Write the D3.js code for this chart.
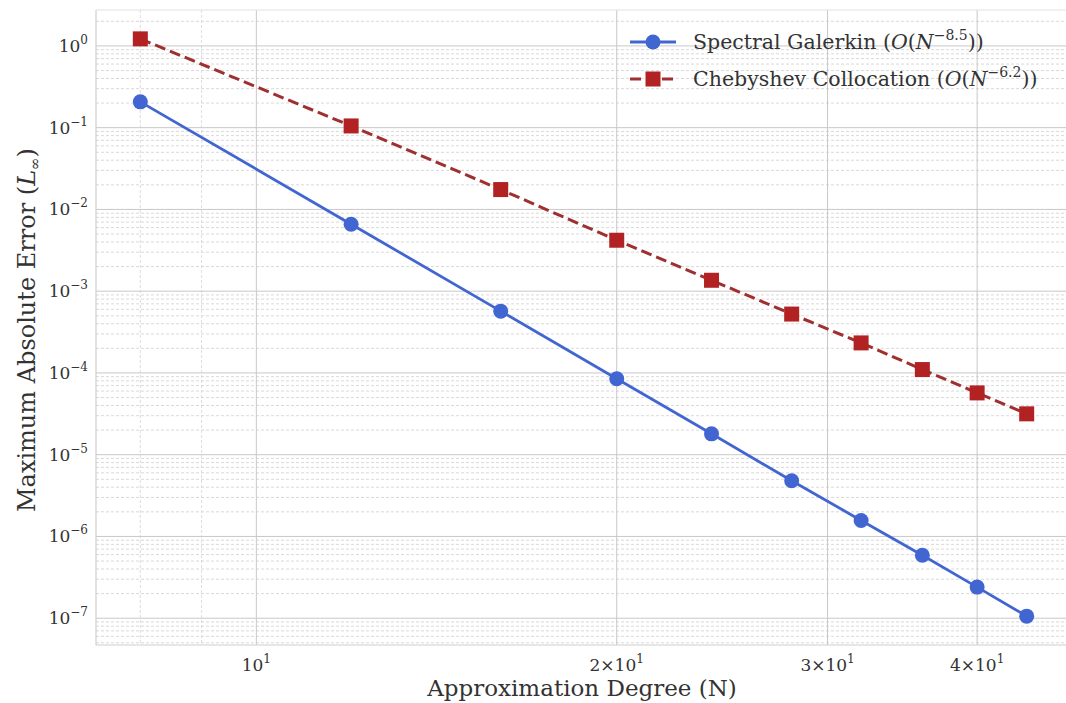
<!DOCTYPE html>
<html>
<head>
<meta charset="utf-8">
<script src="https://cdn.jsdelivr.net/npm/d3@7"></script>
<style>
  body { margin: 0; background: #fff; }
  svg { display: block; font-family: "DejaVu Serif", serif; }
</style>
</head>
<body>
<div id="viz"></div>
<script>
// data
const degrees = [8, 12, 16, 20, 24, 28, 32, 36, 40, 44];
const galerkinError = [0.207, 6.6e-3, 5.7e-4, 8.5e-5, 1.8e-5, 4.8e-6, 1.57e-6, 5.9e-7, 2.4e-7, 1.06e-7];
const collocationError = [1.22, 0.105, 0.0175, 0.0042, 1.36e-3, 5.25e-4, 2.33e-4, 1.1e-4, 5.7e-5, 3.16e-5];
const xTickValues = [10, 20, 30, 40];
const xTickMantissa = ["", "2", "3", "4"];
const yTickExponents = [0, -1, -2, -3, -4, -5, -6, -7];
const seriesNames = ["Spectral Galerkin", "Chebyshev Collocation"];
const seriesRates = ["8.5", "6.2"];

const width = 1066;
const height = 703;
const margin = { left: 96, right: -5, top: 10, bottom: 58 };

const svg = d3.select('#viz').append('svg')
    .attr('width', width)
    .attr('height', height);

// log-space padding like matplotlib's 5% margins
function padded(values) {
    const lo = Math.log10(d3.min(values)), hi = Math.log10(d3.max(values));
    const pad = (hi - lo) * 0.05;
    return [Math.pow(10, lo - pad), Math.pow(10, hi + pad)];
}

const x = d3.scaleLog()
    .domain(padded(degrees))
    .range([margin.left, width - margin.right]);

const y = d3.scaleLog()
    .domain(padded(galerkinError.concat(collocationError)))
    .range([height - margin.bottom, margin.top]);

const plot = svg.append('g');
svg.append('clipPath').attr('id', 'clip')
    .append('rect')
    .attr('x', margin.left).attr('y', margin.top)
    .attr('width', width - margin.left - margin.right)
    .attr('height', height - margin.top - margin.bottom);

const grid = plot.append('g').attr('clip-path', 'url(#clip)');

// minor horizontal grid
const yMinor = [];
for (let e = -8; e <= 0; e++) {
    for (let m = 2; m <= 9; m++) yMinor.push(m * Math.pow(10, e));
}
grid.selectAll('.yminor').data(yMinor).enter().append('line')
    .attr('x1', margin.left).attr('x2', width)
    .attr('y1', d => y(d)).attr('y2', d => y(d))
    .attr('stroke', '#cfcfcf').attr('stroke-width', 0.8)
    .attr('stroke-dasharray', '3,2');

// minor vertical grid
const xMinor = [6, 7, 8, 9, 50, 60];
grid.selectAll('.xminor').data(xMinor).enter().append('line')
    .attr('x1', d => x(d)).attr('x2', d => x(d))
    .attr('y1', margin.top).attr('y2', height - margin.bottom)
    .attr('stroke', '#d4d4d4').attr('stroke-width', 0.8)
    .attr('stroke-dasharray', '3,2');

// major grid
grid.selectAll('.ymajor').data(yTickExponents).enter().append('line')
    .attr('x1', margin.left).attr('x2', width)
    .attr('y1', d => y(Math.pow(10, d))).attr('y2', d => y(Math.pow(10, d)))
    .attr('stroke', '#c8c8c8').attr('stroke-width', 1);

grid.selectAll('.xmajor').data(xTickValues).enter().append('line')
    .attr('x1', d => x(d)).attr('x2', d => x(d))
    .attr('y1', margin.top).attr('y2', height - margin.bottom)
    .attr('stroke', '#c8c8c8').attr('stroke-width', 1);

// spines
plot.append('line')
    .attr('x1', margin.left).attr('x2', margin.left)
    .attr('y1', margin.top).attr('y2', height - margin.bottom)
    .attr('stroke', '#cfcfcf').attr('stroke-width', 1.2);
plot.append('line')
    .attr('x1', margin.left).attr('x2', width)
    .attr('y1', height - margin.bottom).attr('y2', height - margin.bottom)
    .attr('stroke', '#cfcfcf').attr('stroke-width', 1.2);
plot.append('line')
    .attr('x1', margin.left).attr('x2', width)
    .attr('y1', margin.top).attr('y2', margin.top)
    .attr('stroke', '#e2e2e2').attr('stroke-width', 1);

// tick labels
const yLabels = svg.append('g');
yTickExponents.forEach(e => {
    const t = yLabels.append('text')
        .attr('x', 88)
        .attr('y', y(Math.pow(10, e)) + 6)
        .attr('text-anchor', 'end')
        .attr('font-size', 17)
        .attr('fill', '#333');
    t.append('tspan').text('10');
    t.append('tspan').attr('dy', -8).attr('font-size', 12)
        .text(e === 0 ? '0' : '\u2212' + Math.abs(e));
});

const xLabels = svg.append('g');
xTickValues.forEach((v, i) => {
    const t = xLabels.append('text')
        .attr('x', x(v))
        .attr('y', height - margin.bottom + 26)
        .attr('text-anchor', 'middle')
        .attr('font-size', 17)
        .attr('fill', '#333');
    if (xTickMantissa[i]) t.append('tspan').text(xTickMantissa[i] + '\u00d7');
    t.append('tspan').text('10');
    t.append('tspan').attr('dy', -8).attr('font-size', 12).text('1');
});

// axis titles
svg.append('text')
    .attr('x', 582).attr('y', 696)
    .attr('text-anchor', 'middle')
    .attr('font-size', 23)
    .attr('fill', '#333')
    .text('Approximation Degree (N)');

const yTitle = svg.append('text')
    .attr('transform', 'translate(35,330) rotate(-90)')
    .attr('text-anchor', 'middle')
    .attr('font-size', 24)
    .attr('fill', '#333');
yTitle.append('tspan').text('Maximum Absolute Error (');
yTitle.append('tspan').attr('font-style', 'italic').text('L');
yTitle.append('tspan').attr('font-size', 15).attr('dy', 5).text('\u221e');
yTitle.append('tspan').attr('dy', -5).text(')');

// series
const lineGen = d3.line()
    .x(d => x(d[0]))
    .y(d => y(d[1]));

const galerkin = degrees.map((n, i) => [n, galerkinError[i]]);
const colloc = degrees.map((n, i) => [n, collocationError[i]]);

const blue = '#4266d1';
const red = '#b22222';
const redLine = '#a03030';

plot.append('path')
    .datum(colloc)
    .attr('d', lineGen)
    .attr('fill', 'none')
    .attr('stroke', redLine)
    .attr('stroke-width', 3)
    .attr('stroke-dasharray', '11,5');

plot.selectAll('.sq').data(colloc).enter().append('rect')
    .attr('x', d => x(d[0]) - 7.5)
    .attr('y', d => y(d[1]) - 7.5)
    .attr('width', 15).attr('height', 15)
    .attr('fill', red);

plot.append('path')
    .datum(galerkin)
    .attr('d', lineGen)
    .attr('fill', 'none')
    .attr('stroke', blue)
    .attr('stroke-width', 2.8);

plot.selectAll('.dot').data(galerkin).enter().append('circle')
    .attr('cx', d => x(d[0]))
    .attr('cy', d => y(d[1]))
    .attr('r', 7.5)
    .attr('fill', blue);

// legend
const legend = svg.append('g').attr('transform', 'translate(630,42)');
seriesNames.forEach((name, i) => {
    const row = legend.append('g').attr('transform', 'translate(0,' + (i * 37) + ')');
    row.append('line')
        .attr('x1', 0).attr('x2', 46)
        .attr('stroke', i === 0 ? blue : redLine)
        .attr('stroke-width', i === 0 ? 2.8 : 3)
        .attr('stroke-dasharray', i === 0 ? null : '11,5');
    if (i === 0) {
        row.append('circle').attr('cx', 23).attr('r', 7.5).attr('fill', blue);
    } else {
        row.append('rect').attr('x', 15.5).attr('y', -7.5)
            .attr('width', 15).attr('height', 15).attr('fill', red);
    }
    const t = row.append('text')
        .attr('x', 63).attr('y', 7)
        .attr('font-size', 20.5)
        .attr('fill', '#333');
    t.append('tspan').text(name + ' (');
    t.append('tspan').attr('font-style', 'italic').text('O');
    t.append('tspan').text('(');
    t.append('tspan').attr('font-style', 'italic').text('N');
    t.append('tspan').attr('dy', -9).attr('font-size', 14).text('\u2212' + seriesRates[i]);
    t.append('tspan').attr('dy', 9).text('))');
});
</script>
</body>
</html>
